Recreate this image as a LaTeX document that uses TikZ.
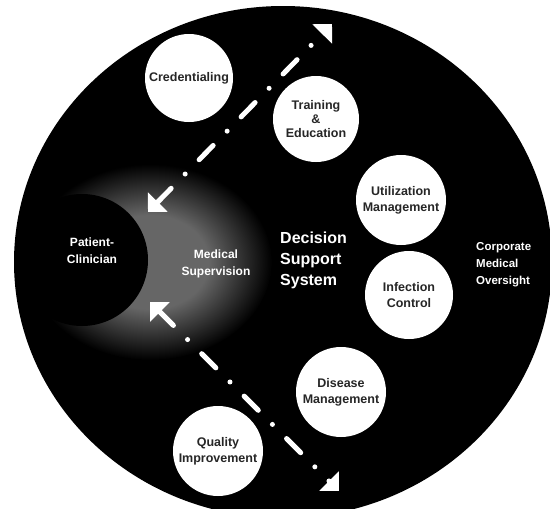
\documentclass[tikz,border=0pt]{standalone}
\usepackage{fontspec}
\setmainfont{Liberation Sans}
\usetikzlibrary{arrows.meta}
\definecolor{haloC}{gray}{0.40}
\pgfdeclareradialshading{halo}{\pgfpoint{0bp}{0bp}}{color(0bp)=(haloC); color(12bp)=(haloC); color(25bp)=(black); color(50bp)=(black)}
\tikzset{
  bubble/.style={circle, fill=white, minimum size=88pt, inner sep=0pt, align=center,
    text=black!85, font=\fontsize{12.5}{16}\selectfont\bfseries},
  wlabel/.style={text=white, align=center, inner sep=0pt, font=\fontsize{12}{17}\selectfont\bfseries},
  dashdot/.style={draw=white, line width=5pt, line cap=round,
    dash pattern=on 20pt off 20pt on 0pt off 20pt,
    arrows={Triangle[width=27pt,length=14pt]-Triangle[width=27pt,length=14pt]}}
}
\begin{document}
\begin{tikzpicture}[x=1pt,y=-1pt]
\useasboundingbox (0,0) rectangle (550,509);
\clip (0,0) rectangle (550,509);
% big black disc
\fill[black] (283,262) ellipse [x radius=269pt, y radius=256pt];
% grey halo
\shade[shading=halo] (150,262) ellipse [x radius=122pt, y radius=98pt];
\fill[black] (82,260) circle [radius=66pt];
% dash-dot double arrows
\coordinate (a1) at (148,212);
\coordinate (a2) at (332,24);
\coordinate (b1) at (150,302);
\coordinate (b2) at (339,491);
\draw[dashdot] (a1) -- (a2);
\draw[dashdot] (b1) -- (b2);
% white bubbles
\node[bubble] (cred) at (189,78) {Credentialing};
\node[bubble, minimum size=86pt] (train) at (316,119) {Training\\[-2pt]\&\\[-2pt]Education};
\node[bubble, minimum size=90pt] (util) at (401,200) {Utilization\\Management};
\node[bubble] (infec) at (409,295) {Infection\\Control};
\node[bubble, minimum size=90pt] (dis) at (341,392) {Disease\\Management};
\node[bubble, minimum size=90pt] (qual) at (218,451) {Quality\\Improvement};
% white labels
\node[wlabel] (pat) at (92,251) {Patient-\\Clinician};
\node[wlabel] (med) at (216,264) {Medical\\Supervision};
\node[wlabel, align=left, anchor=west, font=\fontsize{16}{21}\selectfont\bfseries] (dss) at (280,260) {Decision\\Support\\System};
\node[wlabel, align=left, anchor=west, font=\fontsize{11.5}{17}\selectfont\bfseries] (corp) at (476,265) {Corporate\\Medical\\Oversight};
\end{tikzpicture}
\end{document}
